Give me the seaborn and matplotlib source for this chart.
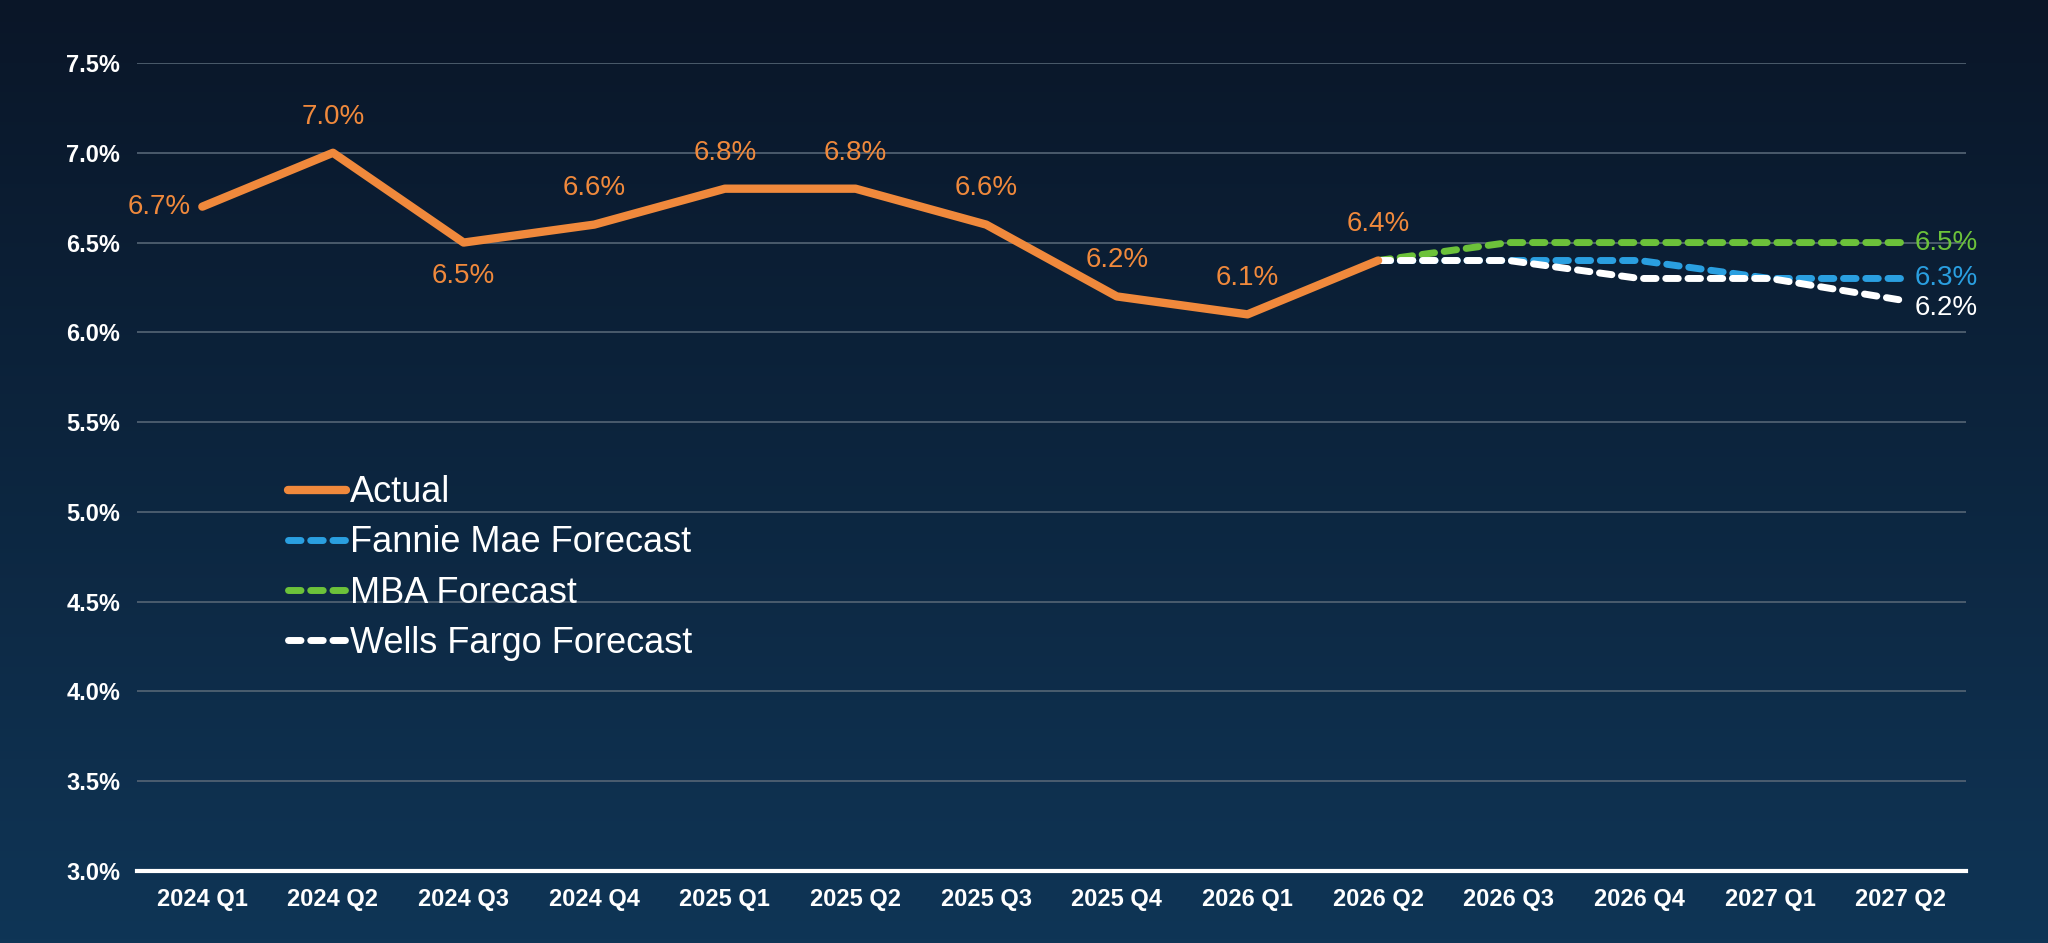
import matplotlib
matplotlib.use("Agg")
import matplotlib.pyplot as plt
import numpy as np
import pandas as pd
import seaborn as sns

quarters = ["2024 Q1", "2024 Q2", "2024 Q3", "2024 Q4", "2025 Q1", "2025 Q2", "2025 Q3",
            "2025 Q4", "2026 Q1", "2026 Q2", "2026 Q3", "2026 Q4", "2027 Q1", "2027 Q2"]
actual = [6.7, 7.0, 6.5, 6.6, 6.8, 6.8, 6.6, 6.2, 6.1, 6.4]
fannie = [6.4, 6.4, 6.4, 6.3, 6.3]
mba = [6.4, 6.5, 6.5, 6.5, 6.5]
wells = [6.4, 6.4, 6.3, 6.3, 6.2]
wells_end = 6.18

sns.set_theme(style="white")
plt.rcParams['font.family'] = ['Liberation Sans', 'DejaVu Sans']

fig = plt.figure(figsize=(20.48, 9.43), dpi=100)
# gradient background
bg = fig.add_axes([0, 0, 1, 1], zorder=-10)
grad = np.linspace(0, 1, 256).reshape(-1, 1)
cmap = matplotlib.colors.LinearSegmentedColormap.from_list("bg", ["#0a1628", "#0f3556"])
bg.imshow(grad, aspect="auto", cmap=cmap, extent=[0, 1, 0, 1], origin="upper")
bg.axis("off")

ax = fig.add_axes([137 / 2048, 1 - 871 / 943, (1966 - 137) / 2048, (871 - 63) / 943])
ax.set_facecolor("none")

fx = list(range(9, 14))
wells_plot = wells[:-1] + [wells_end]
dash = (0, (1.8, 1.4))
for vals, col, lab in [(fannie, "#2a9fe0", "Fannie Mae Forecast"),
                       (mba, "#6cc23a", "MBA Forecast"),
                       (wells_plot, "white", "Wells Fargo Forecast")]:
    sns.lineplot(x=fx, y=vals, ax=ax, color=col, lw=5, ls=dash, label=lab, zorder=3,
                 dash_capstyle="round")
sns.lineplot(x=list(range(len(actual))), y=actual, ax=ax, color="#f0893c", lw=6,
             label="Actual", zorder=4)

orange = "#f0893c"
fs = 20
offsets = {0: (-8, 0, "right", "center"), 2: (0, -24, "center", "center")}
for i, v in enumerate(actual):
    dx, dy, ha, va = offsets.get(i, (0, 26, "center", "center"))
    ax.annotate(f"{v:.1f}%", (i, v), xytext=(dx, dy), textcoords="offset points",
                ha=ha, va=va, color=orange, fontsize=fs)
ax.annotate(f"{mba[-1]:.1f}%", (13, mba[-1]), xytext=(10, 0), textcoords="offset points",
            ha="left", va="center", color="#6cc23a", fontsize=fs)
ax.annotate(f"{fannie[-1]:.1f}%", (13, fannie[-1]), xytext=(10, 0), textcoords="offset points",
            ha="left", va="center", color="#2a9fe0", fontsize=fs)
ax.annotate(f"{wells[-1]:.1f}%", (13, wells_end), xytext=(10, -6), textcoords="offset points",
            ha="left", va="center", color="white", fontsize=fs)

ax.set_xlim(-0.5, 13.5)
ax.set_ylim(3.0, 7.5)
ax.set_xticks(range(len(quarters)))
ax.set_xticklabels(quarters)
yt = np.arange(3.0, 7.51, 0.5)
ax.set_yticks(yt)
ax.set_yticklabels([f"{t:.1f}%" for t in yt])
ax.tick_params(colors="white", labelsize=17, length=0, pad=12)
for lab in ax.get_xticklabels() + ax.get_yticklabels():
    lab.set_fontweight("bold")
ax.grid(axis="y", color="#556575", lw=1.2)
ax.grid(axis="x", visible=False)
for s in ["top", "right", "left"]:
    ax.spines[s].set_visible(False)
ax.spines["bottom"].set_color("white")
ax.spines["bottom"].set_linewidth(3)
ax.set_xlabel("")
ax.set_ylabel("")

h, l = ax.get_legend_handles_labels()
order = [3, 0, 1, 2]
leg = ax.legend([h[i] for i in order], [l[i] for i in order], loc="upper left",
                bbox_to_anchor=(0.065, 0.53), frameon=False, fontsize=26,
                handlelength=1.6, handletextpad=0.1, labelspacing=0.42)
for t in leg.get_texts():
    t.set_color("white")

fig.savefig("out.png", dpi=100)
